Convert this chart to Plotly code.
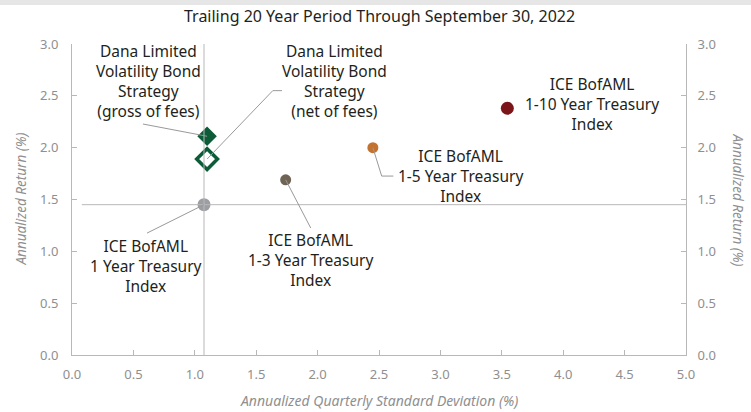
import plotly.graph_objects as go

# ---- data ----
names = ["Dana gross", "Dana net", "ICE 1 Year", "ICE 1-3 Year", "ICE 1-5 Year", "ICE 1-10 Year"]
std_dev = [1.10, 1.10, 1.075, 1.74, 2.45, 3.545]
ann_return = [2.11, 1.89, 1.45, 1.69, 2.00, 2.38]
labels = [
    "Dana Limited<br>Volatility Bond<br>Strategy<br>(gross of fees)",
    "Dana Limited<br>Volatility Bond<br>Strategy<br>(net of fees)",
    "ICE BofAML<br>1 Year Treasury<br>Index",
    "ICE BofAML<br>1-3 Year Treasury<br>Index",
    "ICE BofAML<br>1-5 Year Treasury<br>Index",
    "ICE BofAML<br>1-10 Year Treasury<br>Index",
]
x_ticks = [0.0, 0.5, 1.0, 1.5, 2.0, 2.5, 3.0, 3.5, 4.0, 4.5, 5.0]
y_ticks = [0.0, 0.5, 1.0, 1.5, 2.0, 2.5, 3.0]
crosshair_x = 1.075
crosshair_y = 1.45

# ---- styles ----
colors = ["#0d5c38", "#0d5c38", "#9d9ea3", "#6f6354", "#c4722f", "#7b1519"]
symbols = ["diamond", "diamond-open", "circle", "circle", "circle", "circle"]
sizes = [15, 16, 13, 11, 11, 13]
line_w = [0, 3.5, 0, 0, 0, 0]
label_pos = [(0.62, 2.64), (2.14, 2.64), (0.60, 0.86), (1.946, 0.916), (3.16, 1.726), (4.235, 2.42)]

FONT = "Noto Sans"
GRAY = "#8f8f8f"
AXIS = "#b8b8b8"

fig = go.Figure()
for i in range(len(names)):
    fig.add_trace(go.Scatter(
        x=[std_dev[i]], y=[ann_return[i]], mode="markers", name=names[i],
        marker=dict(symbol=symbols[i], size=sizes[i], color=colors[i],
                    line=dict(width=line_w[i], color=colors[i])),
        hoverinfo="skip", showlegend=False,
    ))
# invisible trace for right axis
fig.add_trace(go.Scatter(x=[std_dev[0]], y=[ann_return[0]], yaxis="y2", mode="markers",
                         marker=dict(opacity=0), showlegend=False, hoverinfo="skip"))

shapes = []
# crosshairs
shapes.append(dict(type="line", xref="x", yref="y", x0=crosshair_x, x1=crosshair_x, y0=0, y1=3,
                   line=dict(color=AXIS, width=1), layer="above"))
shapes.append(dict(type="line", xref="x", yref="y", x0=0.08, x1=5, y0=crosshair_y, y1=crosshair_y,
                   line=dict(color=AXIS, width=1), layer="above"))

# connectors: offsets relative to each point
conn_color = "#999999"
def conn(i, pts):
    x0, y0 = std_dev[i], ann_return[i]
    path = f"M {x0},{y0} " + " ".join(f"L {x0+dx},{y0+dy}" for dx, dy in pts)
    return dict(type="path", xref="x", yref="y", path=path,
                line=dict(color=conn_color, width=1), layer="above")

shapes.append(conn(0, [(-0.522, 0.118)]))
shapes.append(conn(1, [(0.535, 0.66), (0.61, 0.66)]))
shapes.append(conn(2, [(-0.464, -0.274)]))
shapes.append(conn(3, [(0.204, -0.465)]))
shapes.append(conn(4, [(0.072, -0.274), (0.167, -0.274)]))

# top gray band (top 5 px of the figure)
shapes.append(dict(type="rect", xref="paper", yref="paper", x0=-72 / 614, x1=1 + 65 / 614,
                   y0=1 + 39 / 311, y1=1 + 44 / 311,
                   fillcolor="#e6e6e6", line=dict(width=0), layer="above"))

annotations = []
for i, (lx, ly) in enumerate(label_pos):
    annotations.append(dict(x=lx, y=ly, xref="x", yref="y", text=labels[i], showarrow=False,
                            align="center", font=dict(family=FONT, size=15.5, color="#231f20"),
                            bgcolor="white" if i == 2 else "rgba(0,0,0,0)", borderpad=0))

annotations.append(dict(x=0.5, y=1 + 28 / 311, xref="paper", yref="paper", showarrow=False,
                        yanchor="middle", xanchor="center",
                        text="Trailing 20 Year Period Through September 30, 2022",
                        font=dict(family=FONT, size=16, color="#231f20")))
annotations.append(dict(x=-52 / 614, y=0.5, xref="paper", yref="paper", showarrow=False,
                        xanchor="center", yanchor="middle",
                        text="<i>Annualized Return (%)</i>", textangle=-90,
                        font=dict(family=FONT, size=13.5, color=GRAY)))
annotations.append(dict(x=1 + 52 / 614, y=0.5, xref="paper", yref="paper", showarrow=False,
                        xanchor="center", yanchor="middle",
                        text="<i>Annualized Return (%)</i>", textangle=90,
                        font=dict(family=FONT, size=13.5, color=GRAY)))
annotations.append(dict(x=0.5, y=-45 / 311, xref="paper", yref="paper", showarrow=False,
                        yanchor="middle", xanchor="center",
                        text="<i>Annualized Quarterly Standard Deviation (%)</i>",
                        font=dict(family=FONT, size=14, color=GRAY)))

axis_common = dict(showgrid=False, zeroline=False, showline=True, linecolor=AXIS, linewidth=1,
                   ticks="inside", ticklen=5, tickcolor=AXIS,
                   tickfont=dict(family=FONT, size=13, color=GRAY), tickformat=".1f")

fig.update_layout(
    width=751, height=412,
    margin=dict(l=72, r=65, t=44, b=57, pad=0),
    paper_bgcolor="white", plot_bgcolor="white",
    xaxis=dict(range=[0, 5], tickvals=x_ticks, ticklabelstandoff=7, **axis_common),
    yaxis=dict(range=[0, 3], tickvals=y_ticks, ticklabelstandoff=10, **axis_common),
    yaxis2=dict(range=[0, 3], tickvals=y_ticks, overlaying="y", side="right",
                ticklabelstandoff=8, **axis_common),
    shapes=shapes, annotations=annotations,
    showlegend=False,
)
fig.write_html("out.html", config={"displayModeBar": False},
               post_script="document.body.style.margin='0';")
